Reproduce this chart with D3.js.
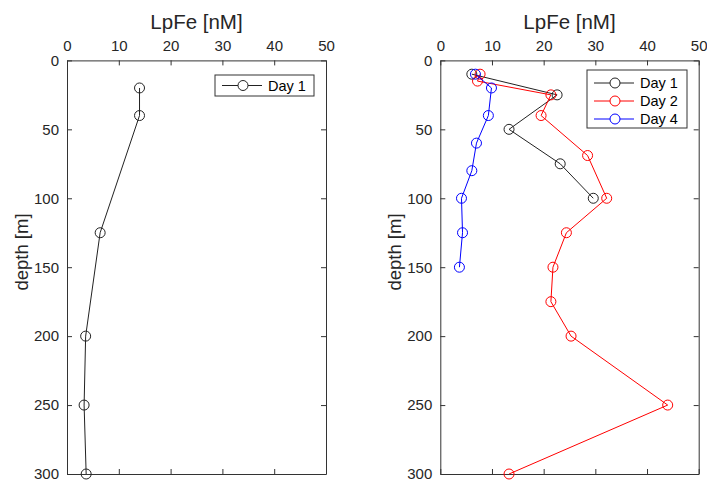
<!DOCTYPE html>
<html>
<head>
<meta charset="utf-8">
<script src="https://cdn.jsdelivr.net/npm/d3@7"></script>
<style>
  body { margin: 0; background: #fff; }
  svg { font-family: "Liberation Sans", Arial, Helvetica, sans-serif; }
</style>
</head>
<body>
<svg width="707" height="482"></svg>
<script>
// values
const xTicks = [0, 10, 20, 30, 40, 50];
const yTicks = [0, 50, 100, 150, 200, 250, 300];

const leftDepth = [20, 40, 125, 200, 250, 300];
const leftDay1 = [14, 14, 6.4, 3.6, 3.3, 3.7];

const day1Depth = [10, 25, 50, 75, 100];
const day1Vals = [6.1, 22.6, 13.3, 23.2, 29.6];

const day2Depth = [10, 15, 25, 40, 69, 100, 125, 150, 175, 200, 250, 300];
const day2Vals = [7.7, 7.2, 21.4, 19.5, 28.5, 32.2, 24.4, 21.8, 21.4, 25.3, 44.0, 13.3];

const day4Depth = [10, 20, 40, 60, 80, 100, 125, 150];
const day4Vals = [6.8, 9.9, 9.3, 7.0, 6.1, 4.1, 4.3, 3.7];

const axisColor = "#333";
const textColor = "#262626";

const svg = d3.select("svg");

const plotTop = 60.4, plotBottom = 474;

function zip(xs, ds) { return xs.map((v, i) => ({ v: v, d: ds[i] })); }

function drawPanel(left, right, series, legend) {
  const x = d3.scaleLinear().domain([0, 50]).range([left, right]);
  const y = d3.scaleLinear().domain([0, 300]).range([plotTop, plotBottom]);

  const g = svg.append("g");

  // top axis with labels, ticks inward
  g.append("g")
    .attr("transform", `translate(0,${plotTop})`)
    .call(d3.axisTop(x).tickValues(xTicks).tickSizeInner(-5).tickSizeOuter(0).tickPadding(9))
    .call(a => a.selectAll("text").attr("font-size", 15).attr("fill", textColor));
  // bottom axis, no labels
  g.append("g")
    .attr("transform", `translate(0,${plotBottom})`)
    .call(d3.axisBottom(x).tickValues(xTicks).tickSizeInner(-5).tickSizeOuter(0).tickFormat(""));
  // left axis
  g.append("g")
    .attr("transform", `translate(${left},0)`)
    .call(d3.axisLeft(y).tickValues(yTicks).tickSizeInner(-5).tickSizeOuter(0).tickPadding(8))
    .call(a => a.selectAll("text").attr("font-size", 15).attr("fill", textColor));
  // right axis
  g.append("g")
    .attr("transform", `translate(${right},0)`)
    .call(d3.axisRight(y).tickValues(yTicks).tickSizeInner(-5).tickSizeOuter(0).tickFormat(""));

  g.selectAll("g").attr("font-family", null);
  g.selectAll(".domain, .tick line").attr("stroke", axisColor);

  // titles
  g.append("text")
    .attr("x", (left + right) / 2)
    .attr("y", 29)
    .attr("text-anchor", "middle")
    .attr("font-size", 20.5)
    .attr("fill", textColor)
    .text("LpFe [nM]");
  g.append("text")
    .attr("transform", `translate(${left - 39.5},252) rotate(-90)`)
    .attr("text-anchor", "middle")
    .attr("font-size", 18.5)
    .attr("fill", textColor)
    .text("depth [m]");

  const line = d3.line().x(p => x(p.v)).y(p => y(p.d));

  series.forEach(s => {
    const pts = zip(s.vals, s.depth);
    g.append("path")
      .datum(pts)
      .attr("d", line)
      .attr("fill", "none")
      .attr("stroke", s.color)
      .attr("stroke-width", 1);
    g.selectAll(null)
      .data(pts)
      .enter().append("circle")
      .attr("cx", p => x(p.v))
      .attr("cy", p => y(p.d))
      .attr("r", 5)
      .attr("fill", "none")
      .attr("stroke", s.color)
      .attr("stroke-width", 1);
  });

  // legend
  const lg = g.append("g").attr("transform", `translate(${legend.x},${legend.y})`);
  lg.append("rect")
    .attr("width", legend.w)
    .attr("height", legend.h)
    .attr("fill", "#fff")
    .attr("stroke", axisColor)
    .attr("stroke-width", 1);
  series.forEach((s, i) => {
    const ry = legend.row0 + i * 18;
    lg.append("line")
      .attr("x1", 7).attr("x2", 47)
      .attr("y1", ry).attr("y2", ry)
      .attr("stroke", s.color);
    lg.append("circle")
      .attr("cx", 28).attr("cy", ry).attr("r", 5)
      .attr("fill", "#fff").attr("stroke", s.color);
    lg.append("text")
      .attr("x", 53).attr("y", ry)
      .attr("dy", "0.35em")
      .attr("font-size", 14.5)
      .attr("fill", "#000")
      .text(s.name);
  });
}

drawPanel(67, 326,
  [{ name: "Day 1", vals: leftDay1, depth: leftDepth, color: "#222" }],
  { x: 215, y: 75, w: 99, h: 21, row0: 10.5 });

drawPanel(440.3, 698.7,
  [
    { name: "Day 1", vals: day1Vals, depth: day1Depth, color: "#222" },
    { name: "Day 2", vals: day2Vals, depth: day2Depth, color: "#f00" },
    { name: "Day 4", vals: day4Vals, depth: day4Depth, color: "#00f" }
  ],
  { x: 587, y: 70, w: 100, h: 58, row0: 13 });
</script>
</body>
</html>
